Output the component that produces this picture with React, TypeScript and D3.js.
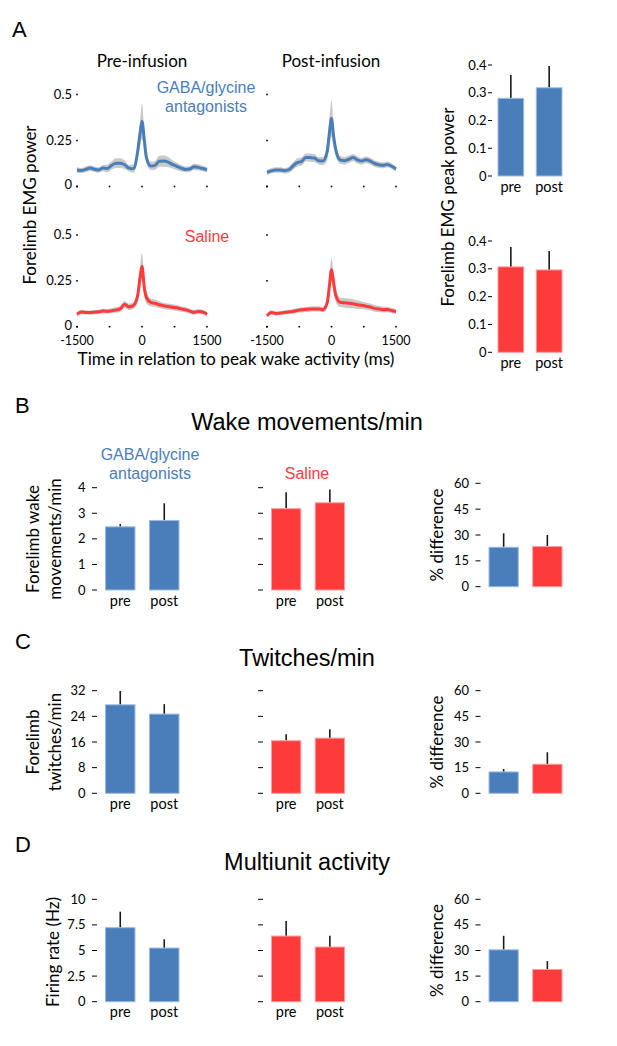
import React from 'react';
import * as d3 from 'd3';

// ---------- colours & fonts ----------
const BLUE = '#4a7ebb';
const RED = '#fe3b3b';
const BLUE_EDGE = '#9dbbe2';
const RED_EDGE = '#ff9c9c';
const BAND = '#c9c9c9';
const LABEL_FONT = "Lato, 'Open Sans', sans-serif";
const TITLE_FONT = "'Liberation Sans', Arial, sans-serif";

// ---------- Panel A traces ----------
const traceTimes = [-1500, -1400, -1300, -1200, -1100, -1000, -900, -800, -700, -600, -500, -400, -300, -200, -100, -50, 0, 50, 100, 200, 300, 400, 500, 600, 700, 800, 900, 1000, 1100, 1200, 1300, 1400, 1500];

const gabaPreMean = [0.09, 0.087, 0.093, 0.1, 0.094, 0.09, 0.1, 0.098, 0.115, 0.127, 0.127, 0.118, 0.1, 0.097, 0.19, 0.28, 0.355, 0.26, 0.16, 0.112, 0.115, 0.137, 0.138, 0.133, 0.12, 0.11, 0.1, 0.093, 0.095, 0.107, 0.104, 0.098, 0.09];
const gabaPreSem = [0.014, 0.014, 0.016, 0.016, 0.015, 0.015, 0.017, 0.02, 0.022, 0.027, 0.027, 0.024, 0.017, 0.022, 0.045, 0.065, 0.095, 0.06, 0.032, 0.022, 0.024, 0.03, 0.03, 0.027, 0.022, 0.02, 0.018, 0.016, 0.015, 0.017, 0.017, 0.015, 0.014];

const gabaPostMean = [0.077, 0.085, 0.09, 0.09, 0.086, 0.09, 0.11, 0.13, 0.135, 0.158, 0.157, 0.155, 0.14, 0.138, 0.19, 0.29, 0.37, 0.27, 0.2, 0.145, 0.14, 0.148, 0.157, 0.145, 0.138, 0.145, 0.138, 0.125, 0.118, 0.115, 0.12, 0.11, 0.095];
const gabaPostSem = [0.014, 0.014, 0.015, 0.015, 0.015, 0.016, 0.02, 0.022, 0.022, 0.022, 0.022, 0.022, 0.02, 0.022, 0.05, 0.07, 0.1, 0.06, 0.035, 0.022, 0.02, 0.02, 0.02, 0.02, 0.018, 0.018, 0.018, 0.017, 0.016, 0.016, 0.016, 0.015, 0.014];

const salinePreMean = [0.068, 0.08, 0.078, 0.077, 0.079, 0.081, 0.085, 0.084, 0.087, 0.091, 0.098, 0.122, 0.108, 0.115, 0.17, 0.26, 0.33, 0.22, 0.16, 0.133, 0.128, 0.12, 0.114, 0.11, 0.106, 0.103, 0.097, 0.092, 0.085, 0.078, 0.083, 0.08, 0.068];
const salinePreSem = [0.012, 0.012, 0.012, 0.012, 0.012, 0.012, 0.013, 0.013, 0.014, 0.015, 0.016, 0.018, 0.017, 0.018, 0.035, 0.055, 0.07, 0.05, 0.032, 0.022, 0.02, 0.018, 0.017, 0.017, 0.016, 0.016, 0.015, 0.014, 0.014, 0.013, 0.013, 0.012, 0.012];

const salinePostMean = [0.06, 0.078, 0.072, 0.074, 0.077, 0.08, 0.083, 0.088, 0.092, 0.094, 0.096, 0.097, 0.097, 0.094, 0.13, 0.22, 0.31, 0.24, 0.17, 0.133, 0.13, 0.128, 0.125, 0.12, 0.117, 0.112, 0.107, 0.1, 0.097, 0.093, 0.094, 0.088, 0.083];
const salinePostSem = [0.012, 0.012, 0.012, 0.012, 0.012, 0.012, 0.013, 0.013, 0.014, 0.014, 0.014, 0.014, 0.014, 0.015, 0.03, 0.05, 0.065, 0.05, 0.035, 0.026, 0.026, 0.026, 0.025, 0.023, 0.021, 0.02, 0.019, 0.018, 0.017, 0.016, 0.015, 0.014, 0.013];

const traceXTicks = [-1500, -750, 0, 750, 1500];
const traceXTickLabels = ['-1500', '', '0', '', '1500'];
const traceYTicks = [0, 0.25, 0.5];
const traceYTickLabels = ['0', '0.25', '0.5'];

// ---------- Panel A bars (peak power) ----------
const prePost = ['pre', 'post'];
const peakGabaMean = [0.28, 0.318];
const peakGabaSem = [0.084, 0.078];
const peakSalineMean = [0.307, 0.296];
const peakSalineSem = [0.071, 0.068];
const peakTicks = [0, 0.1, 0.2, 0.3, 0.4];
const peakTickLabels = ['0', '0.1', '0.2', '0.3', '0.4'];

// ---------- Panel B: wake movements/min ----------
const wakeGabaMean = [2.47, 2.72];
const wakeGabaSem = [0.11, 0.67];
const wakeSalineMean = [3.18, 3.41];
const wakeSalineSem = [0.64, 0.52];
const wakeTicks = [0, 1, 2, 3, 4];
const wakeTickLabels = ['0', '1', '2', '3', '4'];

// ---------- Panel C: twitches/min ----------
const twitchGabaMean = [27.6, 24.7];
const twitchGabaSem = [4.3, 3.1];
const twitchSalineMean = [16.4, 17.2];
const twitchSalineSem = [2.0, 2.8];
const twitchTicks = [0, 8, 16, 24, 32];
const twitchTickLabels = ['0', '8', '16', '24', '32'];

// ---------- Panel D: multiunit activity ----------
const firingGabaMean = [7.23, 5.24];
const firingGabaSem = [1.56, 0.85];
const firingSalineMean = [6.41, 5.34];
const firingSalineSem = [1.47, 1.11];
const firingTicks = [0, 2.5, 5, 7.5, 10];
const firingTickLabels = ['0', '2.5', '5', '7.5', '10'];

// ---------- % difference ----------
const groups = ['gaba', 'saline'];
const wakePctMean = [22.9, 23.3];
const wakePctSem = [8.1, 6.7];
const twitchPctMean = [12.5, 17.0];
const twitchPctSem = [1.7, 7.0];
const firingPctMean = [30.4, 18.9];
const firingPctSem = [8.2, 4.9];
const pctTicks = [0, 15, 30, 45, 60];
const pctTickLabels = ['0', '15', '30', '45', '60'];

// ---------- components ----------
type TraceProps = {
  x0: number; x1: number; yZero: number; yHalf: number;
  mean: number[]; sem: number[]; color: string;
  yLabels: boolean; xLabels: boolean;
};

function Trace({ x0, x1, yZero, yHalf, mean, sem, color, yLabels, xLabels }: TraceProps) {
  const x = d3.scaleLinear().domain([-1500, 1500]).range([x0, x1]);
  const y = d3.scaleLinear().domain([0, 0.5]).range([yZero, yHalf]);
  const idx = traceTimes.map((_, i) => i);
  const area = d3.area<number>()
    .x((i) => x(traceTimes[i]))
    .y0((i) => y(mean[i] - sem[i]))
    .y1((i) => y(mean[i] + sem[i]))
    .curve(d3.curveMonotoneX);
  const line = d3.line<number>()
    .x((i) => x(traceTimes[i]))
    .y((i) => y(mean[i]))
    .curve(d3.curveMonotoneX);
  return (
    <g>
      <path d={area(idx) || ''} fill={BAND} />
      <path d={line(idx) || ''} fill="none" stroke={color} strokeWidth={3} strokeLinejoin="round" />
      {traceXTicks.map((t) => (
        <rect key={'xd' + t} x={x(t) - 0.8} y={y(0) - 0.8} width={1.6} height={1.6} fill="#000" />
      ))}
      {traceYTicks.map((v) => (
        <rect key={'yd' + v} x={x(-1500) - 0.8} y={y(v) - 0.8} width={1.6} height={1.6} fill="#000" />
      ))}
      {yLabels && traceYTicks.map((v, i) => (
        <text key={'yl' + v} x={x(-1500) - 5} y={y(v)} dy={v === 0 ? '0.22em' : '0.33em'} textAnchor="end"
          fontFamily={LABEL_FONT} fontSize={13} fill="#000">{traceYTickLabels[i]}</text>
      ))}
      {xLabels && traceXTicks.map((t, i) => traceXTickLabels[i] ? (
        <text key={'xl' + t} x={x(t)} y={y(0) + 18} textAnchor="middle"
          fontFamily={LABEL_FONT} fontSize={12.5} fill="#000">{traceXTickLabels[i]}</text>
      ) : null)}
    </g>
  );
}

type BarsProps = {
  yZero: number; yMax: number; max: number;
  ticks: number[]; tickLabels: string[] | null;
  xStart: number; xEnd: number; cats: string[];
  mean: number[]; sem: number[]; colors: string[]; edges: string[];
  catLabels: boolean; tickFont?: number;
  dashOff?: [number, number]; labelOff?: number;
};

function Bars({ yZero, yMax, max, ticks, tickLabels, xStart, xEnd, cats, mean, sem, colors, edges, catLabels, tickFont = 13, dashOff = [13.5, 8.5], labelOff = 20 }: BarsProps) {
  const y = d3.scaleLinear().domain([0, max]).range([yZero, yMax]);
  const x = d3.scaleBand<string>().domain(cats).range([xStart, xEnd]).paddingInner(0.33).paddingOuter(0);
  const bw = x.bandwidth();
  return (
    <g>
      {ticks.map((v, i) => (
        <g key={'t' + v}>
          <line x1={xStart - dashOff[0]} x2={xStart - dashOff[1]} y1={y(v)} y2={y(v)} stroke="#000" strokeWidth={1} />
          {tickLabels && (
            <text x={xStart - labelOff} y={y(v)} dy="0.35em" textAnchor="end"
              fontFamily={LABEL_FONT} fontSize={tickFont} fill="#000">{tickLabels[i]}</text>
          )}
        </g>
      ))}
      {cats.map((c, i) => (
        <g key={c}>
          <line x1={(x(c) as number) + bw / 2} x2={(x(c) as number) + bw / 2}
            y1={y(mean[i])} y2={y(mean[i] + sem[i])} stroke="#1a1a1a" strokeWidth={1.6} />
          <rect x={x(c) as number} y={y(mean[i])} width={bw} height={y(0) - y(mean[i])}
            fill={colors[i]} stroke={edges[i]} strokeWidth={1} />
          {catLabels && (
            <text x={(x(c) as number) + bw / 2} y={y(0) + 15.5} textAnchor="middle"
              fontFamily={LABEL_FONT} fontSize={14.5} fill="#000">{c}</text>
          )}
        </g>
      ))}
    </g>
  );
}

function VText({ x, y, children, size = 17 }: { x: number; y: number; children: React.ReactNode; size?: number }) {
  return (
    <text transform={`translate(${x},${y}) rotate(-90)`} textAnchor="middle" dy="0.35em"
      fontFamily={LABEL_FONT} fontSize={size} fill="#000">{children}</text>
  );
}

type RowProps = {
  yZero: number; yMax: number; yZeroR: number; yMaxR: number;
  max: number; ticks: number[]; tickLabels: string[];
  gMean: number[]; gSem: number[]; sMean: number[]; sSem: number[];
  pMean: number[]; pSem: number[];
};

function Row({ yZero, yMax, yZeroR, yMaxR, max, ticks, tickLabels, gMean, gSem, sMean, sSem, pMean, pSem }: RowProps) {
  return (
    <g>
      <Bars yZero={yZero} yMax={yMax} max={max} ticks={ticks} tickLabels={tickLabels}
        xStart={105.5} xEnd={179} cats={prePost} mean={gMean} sem={gSem}
        colors={[BLUE, BLUE]} edges={[BLUE_EDGE, BLUE_EDGE]} catLabels />
      <Bars yZero={yZero} yMax={yMax} max={max} ticks={ticks} tickLabels={null}
        xStart={271.5} xEnd={344.5} cats={prePost} mean={sMean} sem={sSem}
        colors={[RED, RED]} edges={[RED_EDGE, RED_EDGE]} catLabels />
      <Bars yZero={yZeroR} yMax={yMaxR} max={60} ticks={pctTicks} tickLabels={pctTickLabels}
        xStart={489} xEnd={562} cats={groups} mean={pMean} sem={pSem}
        colors={[BLUE, RED]} edges={[BLUE_EDGE, RED_EDGE]} catLabels={false} />
      <VText x={437} y={(yZeroR + yMaxR) / 2}>% difference</VText>
    </g>
  );
}

export default function App() {
  return (
    <svg width={617} height={1046} viewBox="0 0 617 1046"
      style={{ position: 'absolute', left: 0, top: 0, background: '#fff' }}>
      <rect x={0} y={0} width={617} height={1046} fill="#fff" />

      {/* ---------- A ---------- */}
      <text x={12} y={37} fontFamily={TITLE_FONT} fontSize={22} fill="#000">A</text>
      <text x={142} y={67} textAnchor="middle" fontFamily={LABEL_FONT} fontSize={17} fill="#000">Pre-infusion</text>
      <text x={331} y={67} textAnchor="middle" fontFamily={LABEL_FONT} fontSize={17} fill="#000">Post-infusion</text>
      <text x={206} y={93} textAnchor="middle" fontFamily={TITLE_FONT} fontSize={16} fill={BLUE}>GABA/glycine</text>
      <text x={206} y={112} textAnchor="middle" fontFamily={TITLE_FONT} fontSize={16} fill={BLUE}>antagonists</text>
      <text x={207} y={241.5} textAnchor="middle" fontFamily={TITLE_FONT} fontSize={16} fill={RED}>Saline</text>

      <Trace x0={77} x1={207} yZero={186.5} yHalf={94.5} mean={gabaPreMean} sem={gabaPreSem} color={BLUE} yLabels xLabels={false} />
      <Trace x0={267} x1={396} yZero={186.5} yHalf={94.5} mean={gabaPostMean} sem={gabaPostSem} color={BLUE} yLabels={false} xLabels={false} />
      <Trace x0={77} x1={207} yZero={326.7} yHalf={235} mean={salinePreMean} sem={salinePreSem} color={RED} yLabels xLabels />
      <Trace x0={267} x1={396} yZero={326.7} yHalf={235} mean={salinePostMean} sem={salinePostSem} color={RED} yLabels={false} xLabels />

      <VText x={30} y={205}>Forelimb EMG power</VText>
      <text x={236} y={365} textAnchor="middle" fontFamily={LABEL_FONT} fontSize={17.3} fill="#000">Time in relation to peak wake activity (ms)</text>

      <Bars yZero={176} yMax={65} max={0.4} ticks={peakTicks} tickLabels={peakTickLabels}
        xStart={498} xEnd={562} cats={prePost} mean={peakGabaMean} sem={peakGabaSem}
        colors={[BLUE, BLUE]} edges={[BLUE_EDGE, BLUE_EDGE]} catLabels tickFont={13}
        dashOff={[10, 6]} labelOff={11.5} />
      <Bars yZero={352.3} yMax={241} max={0.4} ticks={peakTicks} tickLabels={peakTickLabels}
        xStart={498} xEnd={562} cats={prePost} mean={peakSalineMean} sem={peakSalineSem}
        colors={[RED, RED]} edges={[RED_EDGE, RED_EDGE]} catLabels tickFont={13}
        dashOff={[10, 6]} labelOff={11.5} />
      <VText x={448} y={207}>Forelimb EMG peak power</VText>

      {/* ---------- B ---------- */}
      <text x={15} y={413} fontFamily={TITLE_FONT} fontSize={22} fill="#000">B</text>
      <text x={307} y={430} textAnchor="middle" fontFamily={TITLE_FONT} fontSize={23.5} fill="#000">Wake movements/min</text>
      <text x={150} y={460} textAnchor="middle" fontFamily={TITLE_FONT} fontSize={16} fill={BLUE}>GABA/glycine</text>
      <text x={150} y={479} textAnchor="middle" fontFamily={TITLE_FONT} fontSize={16} fill={BLUE}>antagonists</text>
      <text x={307} y={479} textAnchor="middle" fontFamily={TITLE_FONT} fontSize={16} fill={RED}>Saline</text>
      <Row yZero={590} yMax={487.7} yZeroR={586.7} yMaxR={483.3} max={4}
        ticks={wakeTicks} tickLabels={wakeTickLabels}
        gMean={wakeGabaMean} gSem={wakeGabaSem} sMean={wakeSalineMean} sSem={wakeSalineSem}
        pMean={wakePctMean} pSem={wakePctSem} />
      <VText x={33.5} y={539}>Forelimb wake</VText>
      <VText x={55} y={539}>movements/min</VText>

      {/* ---------- C ---------- */}
      <text x={15} y={649} fontFamily={TITLE_FONT} fontSize={22} fill="#000">C</text>
      <text x={307} y={666} textAnchor="middle" fontFamily={TITLE_FONT} fontSize={23.5} fill="#000">Twitches/min</text>
      <Row yZero={793.3} yMax={690.7} yZeroR={793.3} yMaxR={690.7} max={32}
        ticks={twitchTicks} tickLabels={twitchTickLabels}
        gMean={twitchGabaMean} gSem={twitchGabaSem} sMean={twitchSalineMean} sSem={twitchSalineSem}
        pMean={twitchPctMean} pSem={twitchPctSem} />
      <VText x={33.5} y={742}>Forelimb</VText>
      <VText x={55} y={742}>twitches/min</VText>

      {/* ---------- D ---------- */}
      <text x={15} y={852} fontFamily={TITLE_FONT} fontSize={22} fill="#000">D</text>
      <text x={307} y={870} textAnchor="middle" fontFamily={TITLE_FONT} fontSize={23.5} fill="#000">Multiunit activity</text>
      <Row yZero={1001.7} yMax={899.3} yZeroR={1001.7} yMaxR={899.3} max={10}
        ticks={firingTicks} tickLabels={firingTickLabels}
        gMean={firingGabaMean} gSem={firingGabaSem} sMean={firingSalineMean} sSem={firingSalineSem}
        pMean={firingPctMean} pSem={firingPctSem} />
      <VText x={53} y={952}>Firing rate (Hz)</VText>
    </svg>
  );
}
